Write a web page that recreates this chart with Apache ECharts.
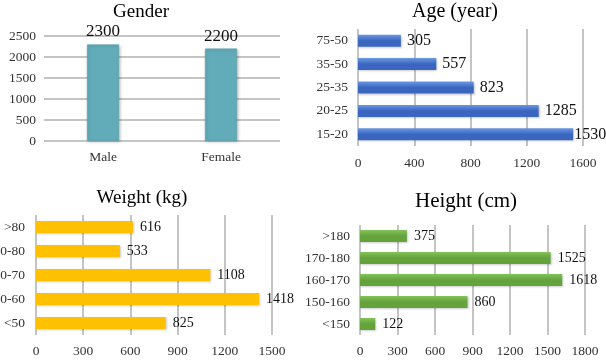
<!DOCTYPE html>
<html>
<head>
<meta charset="utf-8">
<script src="https://cdn.jsdelivr.net/npm/echarts@6/dist/echarts.min.js"></script>
<style>
html,body{margin:0;padding:0;background:#fff;}
#c{width:606px;height:364px;}
</style>
</head>
<body>
<div id="c"></div>
<script>
var genderCats = ['Male', 'Female'];
var genderVals = [2300, 2200];
var ageCats = ['15-20', '20-25', '25-35', '35-50', '75-50'];
var ageVals = [1530, 1285, 823, 557, 305];
var weightCats = ['<50', '50-60', '60-70', '70-80', '>80'];
var weightVals = [825, 1418, 1108, 533, 616];
var heightCats = ['<150', '150-160', '160-170', '170-180', '>180'];
var heightVals = [122, 860, 1618, 1525, 375];

var FONT = '"Liberation Serif", "Times New Roman", serif';
var gridLine = {show: true, lineStyle: {color: '#c4c4c4', width: 2}};
function tickLbl(m) {
  return {margin: m, fontFamily: FONT, fontSize: 13.5, color: '#333',
          formatter: function (v) { return String(v); }};
}

function grad(c1, c2) {
  return new echarts.graphic.LinearGradient(0, 0, 0, 1, [
    {offset: 0, color: c1}, {offset: 0.5, color: c2}, {offset: 1, color: c2}
  ]);
}

// the largest age bar's label sits tight against the bar end (as in the reference)
var maxAge = Math.max.apply(null, ageVals);
var ageData = ageVals.map(function (v) {
  return v === maxAge ? {value: v, label: {distance: 1}} : v;
});

var chart = echarts.init(document.getElementById('c'), null, {renderer: 'canvas'});
chart.setOption({
  animation: false,
  backgroundColor: '#fff',
  title: [
    {text: 'Gender', left: 141, top: 3, textAlign: 'center', padding: 0,
     textStyle: {fontFamily: FONT, fontSize: 19, fontWeight: 'normal', color: '#000'}},
    {text: 'Age (year)', left: 455, top: 2, textAlign: 'center', padding: 0,
     textStyle: {fontFamily: FONT, fontSize: 20, fontWeight: 'normal', color: '#000'}},
    {text: 'Weight (kg)', left: 142, top: 189, textAlign: 'center', padding: 0,
     textStyle: {fontFamily: FONT, fontSize: 19, fontWeight: 'normal', color: '#000'}},
    {text: 'Height (cm)', left: 466, top: 191, textAlign: 'center', padding: 0,
     textStyle: {fontFamily: FONT, fontSize: 21, fontWeight: 'normal', color: '#000'}}
  ],
  grid: [
    {left: 44, right: 326, top: 36, bottom: 223, containLabel: false, outerBoundsMode: 'none'},
    {left: 358, right: 23, top: 29, bottom: 218, containLabel: false, outerBoundsMode: 'none'},
    {left: 36, right: 334, top: 215, bottom: 29, containLabel: false, outerBoundsMode: 'none'},
    {left: 360, right: 21, top: 225, bottom: 29, containLabel: false, outerBoundsMode: 'none'}
  ],
  xAxis: [
    {gridIndex: 0, type: 'category', data: genderCats,
     axisLine: {show: false}, axisTick: {show: false},
     axisLabel: tickLbl(9)},
    {gridIndex: 1, type: 'value', min: 0, max: 1600, interval: 400,
     splitLine: gridLine, axisLine: {show: false}, axisTick: {show: false},
     axisLabel: tickLbl(10)},
    {gridIndex: 2, type: 'value', min: 0, max: 1500, interval: 300,
     splitLine: gridLine, axisLine: {show: false}, axisTick: {show: false},
     axisLabel: tickLbl(9)},
    {gridIndex: 3, type: 'value', min: 0, max: 1800, interval: 300,
     splitLine: gridLine, axisLine: {show: false}, axisTick: {show: false},
     axisLabel: tickLbl(9)}
  ],
  yAxis: [
    {gridIndex: 0, type: 'value', min: 0, max: 2500, interval: 500,
     splitLine: gridLine, axisLine: {show: false}, axisTick: {show: false},
     axisLabel: tickLbl(8)},
    {gridIndex: 1, type: 'category', data: ageCats,
     axisLine: {show: false}, axisTick: {show: false},
     axisLabel: tickLbl(10)},
    {gridIndex: 2, type: 'category', data: weightCats,
     axisLine: {show: false}, axisTick: {show: false},
     axisLabel: tickLbl(11)},
    {gridIndex: 3, type: 'category', data: heightCats,
     axisLine: {show: false}, axisTick: {show: false},
     axisLabel: tickLbl(10)}
  ],
  series: [
    {type: 'bar', xAxisIndex: 0, yAxisIndex: 0, data: genderVals, barWidth: 32,
     itemStyle: {color: '#62abb9', borderColor: '#5a9fac', borderWidth: 0.5,
                 shadowColor: 'rgba(0,0,0,0.25)', shadowBlur: 3, shadowOffsetX: 1, shadowOffsetY: 1},
     label: {show: true, position: 'top', distance: 4, fontFamily: FONT, fontSize: 17, color: '#111'}},
    {type: 'bar', xAxisIndex: 1, yAxisIndex: 1, data: ageData, barWidth: 12,
     itemStyle: {color: grad('#6b98e3', '#3a66c0'), shadowColor: 'rgba(0,0,0,0.2)', shadowBlur: 2, shadowOffsetX: 1, shadowOffsetY: 1},
     label: {show: true, position: 'right', distance: 6, fontFamily: FONT, fontSize: 16, color: '#111'}},
    {type: 'bar', xAxisIndex: 2, yAxisIndex: 2, data: weightVals, barWidth: 12,
     itemStyle: {color: '#ffc000', shadowColor: 'rgba(0,0,0,0.2)', shadowBlur: 2, shadowOffsetX: 1, shadowOffsetY: 1},
     label: {show: true, position: 'right', distance: 7, fontFamily: FONT, fontSize: 14, color: '#111'}},
    {type: 'bar', xAxisIndex: 3, yAxisIndex: 3, data: heightVals, barWidth: 12,
     itemStyle: {color: grad('#84c25a', '#64a23c'), shadowColor: 'rgba(0,0,0,0.2)', shadowBlur: 2, shadowOffsetX: 1, shadowOffsetY: 1},
     label: {show: true, position: 'right', distance: 7, fontFamily: FONT, fontSize: 14, color: '#111'}}
  ]
});
</script>
</body>
</html>
